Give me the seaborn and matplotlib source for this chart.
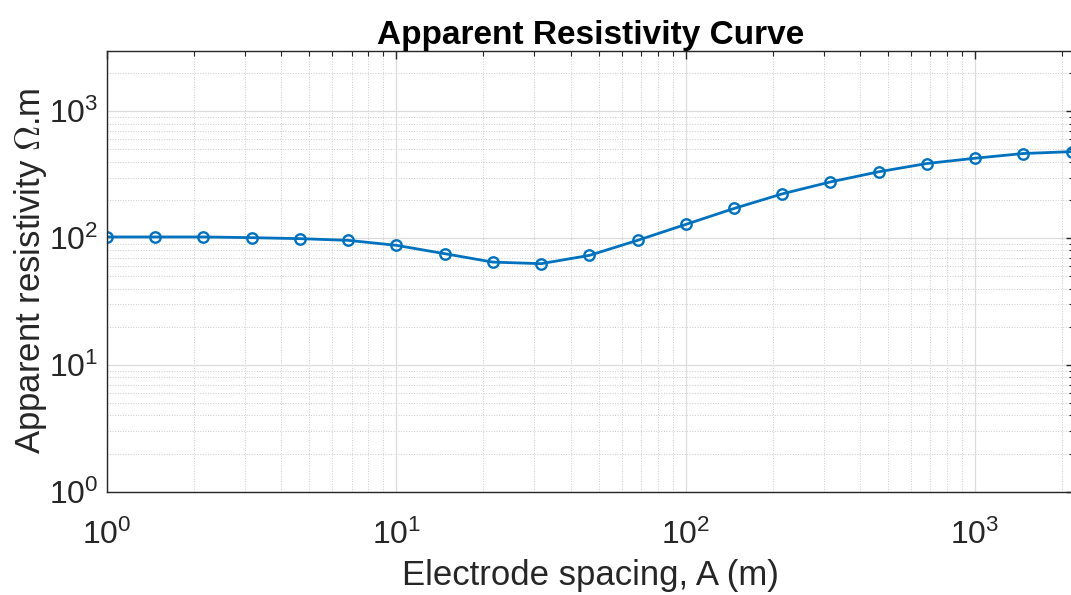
import numpy as np
import matplotlib
matplotlib.use('Agg')
import matplotlib.pyplot as plt
import seaborn as sns
from matplotlib.ticker import LogLocator, NullFormatter

# electrode spacing A (m), 6 points per decade
spacing = [1, 1.468, 2.154, 3.162, 4.642, 6.813, 10, 14.68, 21.54, 31.62,
           46.42, 68.13, 100, 146.8, 215.4, 316.2, 464.2, 681.3, 1000, 1468, 2154]
# apparent resistivity (ohm.m)
rho = [102, 102, 102, 100.7, 98.9, 95.9, 87.6, 75.3, 64.6, 62.8,
       73, 95.9, 128, 171, 223, 277, 333, 387, 426, 464, 480]

sns.set_style('white')
plt.rcParams['font.family'] = ['Liberation Sans', 'DejaVu Sans']
plt.rcParams['mathtext.fontset'] = 'cm'

fig = plt.figure(figsize=(10.71, 5.95), dpi=100)
ax = fig.add_axes([0.0999, 0.1736, 0.9030, 0.7412])

sns.lineplot(x=spacing, y=rho, ax=ax, color='#0072BD', linewidth=2,
             marker='o', markersize=7.5, markerfacecolor='none',
             markeredgecolor='#0072BD', markeredgewidth=1.7)

ax.set_xscale('log')
ax.set_yscale('log')
ax.set_xlim(1, 10 ** 3.342)
ax.set_ylim(1, 3000)

ax.xaxis.set_major_locator(LogLocator(base=10, numticks=10))
ax.xaxis.set_minor_locator(LogLocator(base=10, subs=np.arange(2, 10), numticks=20))
ax.yaxis.set_major_locator(LogLocator(base=10, numticks=10))
ax.yaxis.set_minor_locator(LogLocator(base=10, subs=np.arange(2, 10), numticks=20))
ax.xaxis.set_minor_formatter(NullFormatter())
ax.yaxis.set_minor_formatter(NullFormatter())

ax.grid(True, which='major', color='#dcdcdc', linewidth=0.9, linestyle='-')
ax.grid(True, which='minor', color='#cccccc', linewidth=0.7, linestyle=':')
ax.set_axisbelow(True)

ax.tick_params(which='both', direction='in', top=True, right=True,
               colors='#262626', labelsize=23)
ax.tick_params(which='major', length=6, width=1)
ax.tick_params(which='minor', length=3.5, width=0.8)
ax.tick_params(axis='x', which='major', pad=20)
ax.tick_params(axis='y', which='major', pad=6)
for s in ax.spines.values():
    s.set_color('#262626')
    s.set_linewidth(1.0)

ax.set_xlabel('Electrode spacing, A (m)', fontsize=25, color='#262626', labelpad=6)
ax.set_ylabel(r'Apparent resistivity $\Omega$.m', fontsize=25, color='#262626', labelpad=0)
ax.set_title('Apparent Resistivity Curve', fontsize=24, fontweight='bold', color='black', pad=5)

fig.savefig('out.png', dpi=100)
